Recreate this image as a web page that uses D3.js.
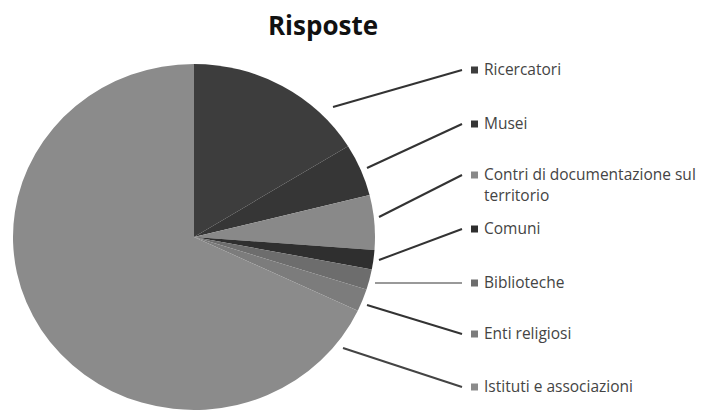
<!DOCTYPE html>
<html><head><meta charset="utf-8">
<script src="https://cdn.jsdelivr.net/npm/d3@7"></script>
<style>body{margin:0;background:#fff}svg{display:block}</style>
</head><body>
<svg id="c" width="704" height="411"></svg>
<script>
const categories = ["Ricercatori","Musei","Contri di documentazione sul territorio","Comuni","Biblioteche","Enti religiosi","Istituti e associazioni"];
const labelLines = [["Ricercatori"],["Musei"],["Contri di documentazione sul","territorio"],["Comuni"],["Biblioteche"],["Enti religiosi"],["Istituti e associazioni"]];
const values = [16.2, 4.9, 5.1, 1.8, 1.9, 2.1, 68.0];
const colors = ["#3d3d3d","#363636","#898989","#2f2f2f","#6d6d6d","#7c7c7c","#8b8b8b"];
const legendColors = ["#3d3d3d","#363636","#898989","#2f2f2f","#6d6d6d","#7c7c7c","#8b8b8b"];
const lineColors = ["#333","#333","#333","#333","#999","#333","#444"];
const title = "Risposte";

const svg = d3.select("#c");
const cx = 194, cy = 237, rx = 181, ry = 173;

svg.append("text").attr("x", 323).attr("y", 35).attr("text-anchor","middle")
  .attr("font-family","Open Sans, sans-serif").attr("font-weight","bold").attr("font-size",26)
  .attr("fill","#111").text(title);

const pie = d3.pie().sort(null).value(d=>d);
const arcs = pie(values);
const arc = d3.arc().innerRadius(0).outerRadius(rx);
const g = svg.append("g").attr("transform",`translate(${cx},${cy}) scale(1,${ry/rx})`);
g.selectAll("path").data(arcs).join("path").attr("d",arc).attr("fill",(d,i)=>colors[i]);

const legendX = 471;
const yPos = [70,124,175,229,283,334,387];
const lineStart = [[333,107],[367,168],[379,217],[379,260],[375,283],[367,305],[343,348]];
const lg = svg.append("g");
categories.forEach((c,i)=>{
  const y = yPos[i];
  lg.append("line").attr("x1",lineStart[i][0]).attr("y1",lineStart[i][1])
    .attr("x2",legendX-9).attr("y2",y).attr("stroke",lineColors[i]).attr("stroke-width",2);
  lg.append("rect").attr("x",legendX).attr("y",y-3.5).attr("width",7).attr("height",7).attr("fill",legendColors[i]);
  labelLines[i].forEach((t,k)=>{
    lg.append("text").attr("x",legendX+13).attr("y",y+5+k*21)
      .attr("font-family","Open Sans, sans-serif").attr("font-size",15.5)
      .attr("fill","#444").text(t);
  });
});
</script>
</body></html>
